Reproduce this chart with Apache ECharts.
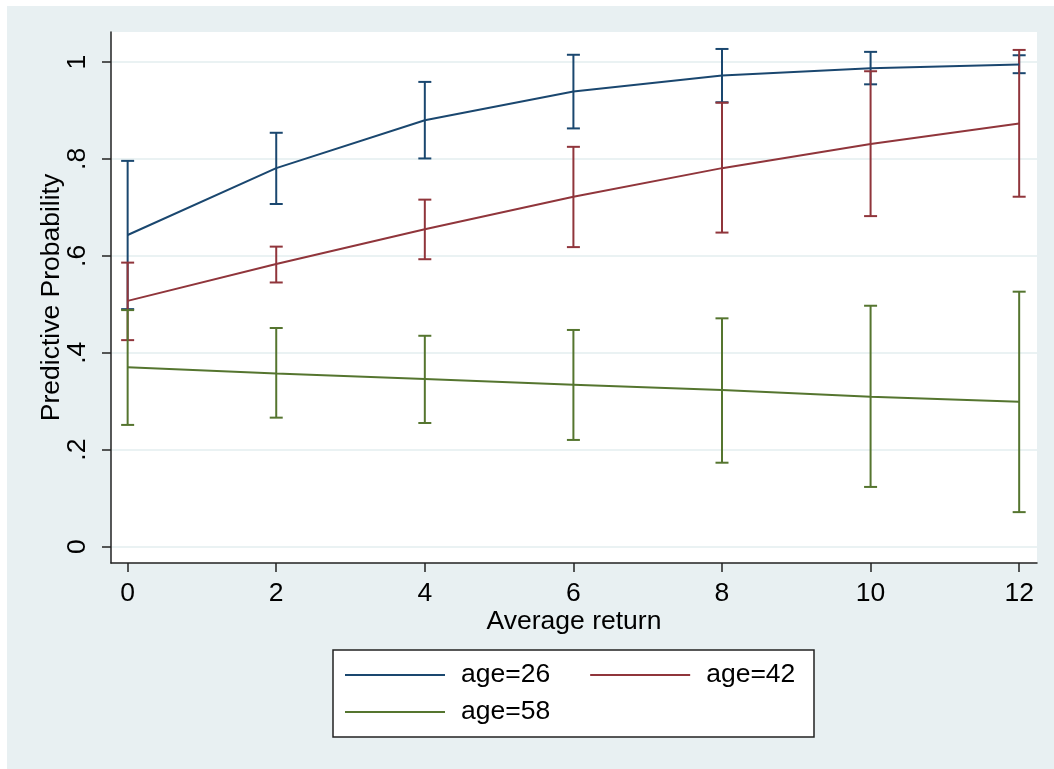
<!DOCTYPE html>
<html>
<head>
<meta charset="utf-8">
<script src="https://cdn.jsdelivr.net/npm/echarts@6/dist/echarts.min.js"></script>
<style>
html,body{margin:0;padding:0;background:#fff;}
#chart{width:1054px;height:769px;background:linear-gradient(#E8F0F2,#E8F0F2) no-repeat 7px 6px / 1047px 763px, #fff;}
</style>
</head>
<body>
<div id="chart"></div>
<script>
// ---- data ----
const xValues = [0, 2, 4, 6, 8, 10, 12];
const seriesNames = ['age=26', 'age=42', 'age=58'];
const age26 = [0.643, 0.781, 0.880, 0.939, 0.972, 0.987, 0.995];
const age26Lo = [0.490, 0.707, 0.801, 0.863, 0.917, 0.954, 0.977];
const age26Hi = [0.796, 0.854, 0.959, 1.015, 1.027, 1.021, 1.014];
const age42 = [0.507, 0.583, 0.655, 0.722, 0.781, 0.831, 0.873];
const age42Lo = [0.426, 0.545, 0.593, 0.618, 0.648, 0.682, 0.722];
const age42Hi = [0.586, 0.619, 0.716, 0.825, 0.916, 0.981, 1.025];
const age58 = [0.370, 0.357, 0.346, 0.334, 0.323, 0.309, 0.299];
const age58Lo = [0.251, 0.266, 0.255, 0.220, 0.173, 0.123, 0.071];
const age58Hi = [0.488, 0.451, 0.435, 0.447, 0.471, 0.497, 0.526];
const xTicks = [0, 2, 4, 6, 8, 10, 12];
const yTicks = [0, 0.2, 0.4, 0.6, 0.8, 1];
const yTickLabels = ['0', '.2', '.4', '.6', '.8', '1'];
const colors = ['#1a476f', '#90353b', '#55752f'];
const FONT = 'Liberation Sans, Arial, Helvetica, sans-serif';
const FS = 26.5;

const means = [age26, age42, age58];
const lows = [age26Lo, age42Lo, age58Lo];
const highs = [age26Hi, age42Hi, age58Hi];

function ciSeries(i) {
  const color = colors[i];
  return {
    type: 'custom',
    name: seriesNames[i] + ' CI',
    data: xValues.map((x, k) => [x, lows[i][k], highs[i][k]]),
    encode: { x: 0, y: [1, 2] },
    z: 3,
    renderItem: function (params, api) {
      const x = api.value(0);
      const pl = api.coord([x, api.value(1)]);
      const ph = api.coord([x, api.value(2)]);
      const hw = 6.5;
      const st = { stroke: color, lineWidth: 2 };
      return {
        type: 'group',
        children: [
          { type: 'line', shape: { x1: pl[0], y1: pl[1], x2: ph[0], y2: ph[1] }, style: st },
          { type: 'line', shape: { x1: pl[0] - hw, y1: pl[1], x2: pl[0] + hw, y2: pl[1] }, style: st },
          { type: 'line', shape: { x1: ph[0] - hw, y1: ph[1], x2: ph[0] + hw, y2: ph[1] }, style: st }
        ]
      };
    }
  };
}

function lineSeries(i) {
  return {
    type: 'line',
    name: seriesNames[i],
    data: xValues.map((x, k) => [x, means[i][k]]),
    symbol: 'none',
    z: 4,
    lineStyle: { color: colors[i], width: 2 },
    itemStyle: { color: colors[i] }
  };
}

const chart = echarts.init(document.getElementById('chart'), null, { renderer: 'canvas' });
const legendCommon = {
  orient: 'horizontal',
  icon: 'rect',
  itemWidth: 100,
  itemHeight: 2,
  itemGap: 40,
  padding: 0,
  selectedMode: false,
  textStyle: { fontFamily: FONT, fontSize: FS, color: '#000', padding: [0, 0, 0, 11], lineHeight: 28 }
};
chart.setOption({
  animation: false,
  color: colors,
  grid: {
    left: 111, top: 32, width: 926, height: 531,
    show: true, backgroundColor: '#ffffff', borderWidth: 0
  },
  xAxis: {
    type: 'value', min: -0.224, max: 12.24,
    name: 'Average return', nameLocation: 'middle', nameGap: 45, nameMoveOverlap: false,
    nameTextStyle: { fontFamily: FONT, fontSize: FS, color: '#000' },
    axisLine: { show: true, onZero: false, lineStyle: { color: '#222', width: 1.5 } },
    axisTick: { show: true, inside: false, length: 9, customValues: xTicks, lineStyle: { color: '#222', width: 1.5 } },
    axisLabel: { customValues: xTicks, fontFamily: FONT, fontSize: FS, color: '#000', margin: 17 },
    splitLine: { show: false }
  },
  yAxis: {
    type: 'value', min: -0.034, max: 1.062,
    name: 'Predictive Probability', nameLocation: 'middle', nameGap: 46, nameRotate: 90, nameMoveOverlap: false,
    nameTextStyle: { fontFamily: FONT, fontSize: FS, color: '#000' },
    axisLine: { show: true, onZero: false, lineStyle: { color: '#222', width: 1.5 } },
    axisTick: { show: true, inside: false, length: 9, customValues: yTicks, lineStyle: { color: '#222', width: 1.5 } },
    axisLabel: {
      customValues: yTicks, rotate: 90, fontFamily: FONT, fontSize: FS, color: '#000', margin: 20,
      formatter: function (v) {
        const k = yTicks.findIndex(t => Math.abs(t - v) < 1e-9);
        return k >= 0 ? yTickLabels[k] : '';
      }
    },
    splitLine: { show: true, lineStyle: { color: '#EAF2F3', width: 2 } }
  },
  legend: [
    Object.assign({}, legendCommon, { data: [seriesNames[0], seriesNames[1]], left: 345, top: 661 }),
    Object.assign({}, legendCommon, { data: [seriesNames[2]], left: 345, top: 698 })
  ],
  graphic: [
    {
      type: 'rect', z: 1,
      shape: { x: 333, y: 650, width: 481, height: 87 },
      style: { fill: '#ffffff', stroke: '#222', lineWidth: 1.5 }
    }
  ],
  series: [ciSeries(0), ciSeries(1), ciSeries(2), lineSeries(0), lineSeries(1), lineSeries(2)]
});
</script>
</body>
</html>
